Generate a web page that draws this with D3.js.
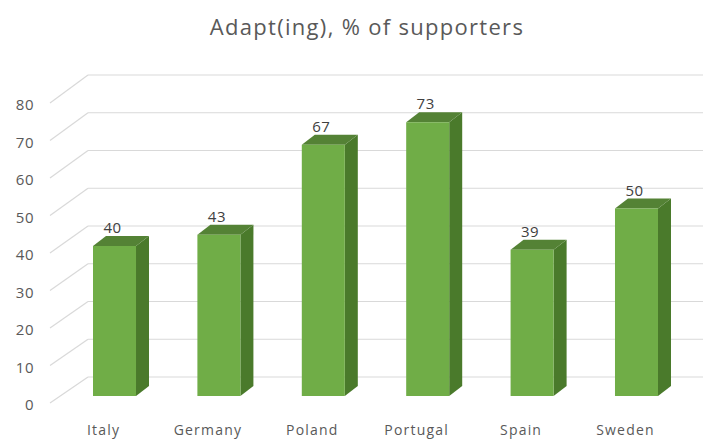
<!DOCTYPE html>
<html>
<head>
<meta charset="utf-8">
<script src="https://cdn.jsdelivr.net/npm/d3@7"></script>
<style>
  body { margin: 0; background: #fff; }
  text { font-family: "Open Sans", "Liberation Sans", sans-serif; }
</style>
</head>
<body>
<div id="chart"></div>
<script>
const categories = ["Italy", "Germany", "Poland", "Portugal", "Spain", "Sweden"];
const values = [40, 43, 67, 73, 39, 50];
const yTicks = [0, 10, 20, 30, 40, 50, 60, 70, 80];

const width = 703, height = 441;
// 3d offsets
const depthX = 13, depthY = 10;

const svg = d3.select("#chart")
  .append("svg")
    .attr("width", width)
    .attr("height", height);

// title
svg.append("text")
  .attr("x", 367)
  .attr("y", 35)
  .attr("text-anchor", "middle")
  .attr("fill", "#595959")
  .style("font-size", "22px")
  .style("letter-spacing", "1.3px")
  .text("Adapt(ing), % of supporters");

// scales
const x = d3.scaleBand()
  .domain(categories)
  .range([40.8, 710.2])
  .paddingInner(0.588)
  .paddingOuter(0.5);

const yFront = d3.scaleLinear().domain([0, 80]).range([396, 96]);
const yWall = d3.scaleLinear().domain([0, 80]).range([377, 75]);
const ySide = d3.scaleLinear().domain([0, 80]).range([403, 103]);

const grid = svg.append("g");

// back wall gridlines
grid.selectAll(".hline")
  .data(yTicks)
  .join("line")
    .attr("x1", 88).attr("x2", width)
    .attr("y1", d => yWall(d)).attr("y2", d => yWall(d))
    .attr("stroke", "#d9d9d9")
    .attr("stroke-width", 1.2);

// side wall diagonals
grid.selectAll(".dline")
  .data(yTicks)
  .join("line")
    .attr("x1", 50).attr("x2", 88)
    .attr("y1", d => ySide(d)).attr("y2", d => yWall(d))
    .attr("stroke", "#d9d9d9")
    .attr("stroke-width", 1.2);

// y axis labels
svg.append("g")
  .attr("transform", "translate(37,2)")
  .call(d3.axisLeft(ySide).tickValues(yTicks).tickSize(0).tickPadding(3))
  .call(g => g.select(".domain").remove())
  .call(g => g.selectAll("text")
    .attr("fill", "#595959")
    .style("font-size", "15px")
    .style("letter-spacing", "0.5px")
    .style("font-family", "'Open Sans', sans-serif"));

// bars
const bars = svg.selectAll(".bar")
  .data(categories.map((c, i) => ({cat: c, value: values[i]})))
  .join("g")
    .attr("class", "bar");

const bw = x.bandwidth();
const base = yFront(0);

bars.append("polygon")
  .attr("points", d => {
    const x0 = x(d.cat) + bw, y0 = yFront(d.value);
    return [[x0, y0], [x0 + depthX, y0 - depthY], [x0 + depthX, base - depthY], [x0, base]].join(" ");
  })
  .attr("fill", "#4a7a2b");

bars.append("polygon")
  .attr("points", d => {
    const x0 = x(d.cat), y0 = yFront(d.value);
    return [[x0, y0], [x0 + depthX, y0 - depthY], [x0 + bw + depthX, y0 - depthY], [x0 + bw, y0]].join(" ");
  })
  .attr("fill", "#548235");

bars.append("rect")
  .attr("x", d => x(d.cat))
  .attr("y", d => yFront(d.value))
  .attr("width", bw)
  .attr("height", d => base - yFront(d.value))
  .attr("fill", "#70ad47");

// value labels
bars.append("text")
  .attr("x", d => x(d.cat) + bw / 2 - 2)
  .attr("y", d => yFront(d.value) - 13)
  .attr("text-anchor", "middle")
  .attr("fill", "#404040")
  .style("font-size", "15px")
  .style("letter-spacing", "0.5px")
  .text(d => d.value);

// category labels
svg.selectAll(".xlabel")
  .data(categories)
  .join("text")
    .attr("x", d => x(d) + bw / 2 - 11)
    .attr("y", 435)
    .attr("text-anchor", "middle")
    .attr("fill", "#595959")
    .style("font-size", "14px")
    .style("letter-spacing", "1.2px")
    .text(d => d);
</script>
</body>
</html>
